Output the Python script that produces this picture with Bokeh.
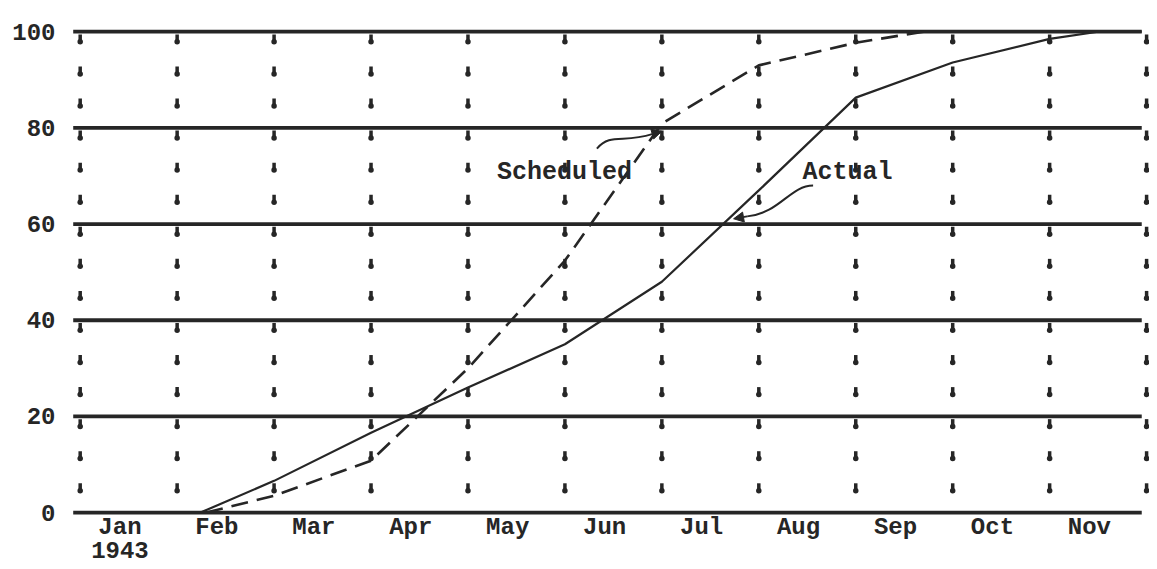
from bokeh.plotting import figure
from bokeh.models import FixedTicker, Arrow, NormalHead, Label
from bokeh.embed import file_html
from bokeh.resources import INLINE
from bokeh.core.properties import value

# ---- data ----
months = ["Jan", "Feb", "Mar", "Apr", "May", "Jun", "Jul", "Aug", "Sep", "Oct", "Nov"]
year_label = "1943"
y_ticks = [0, 20, 40, 60, 80, 100]

# x in months since 1 Jan 1943 (month boundaries are the dotted lines)
actual_x = [1.24, 2, 3, 4, 5, 6, 7, 8, 9, 10, 10.5, 10.95]
actual_y = [0, 6.6, 16.6, 26, 35, 48, 67, 86.3, 93.6, 98.5, 100, 100]

scheduled_x = [1.3, 2, 3, 4, 5, 6, 7, 8, 8.7]
scheduled_y = [0, 3.5, 10.8, 30, 52.4, 80.9, 93, 97.7, 100]

# callout texts and leader curves (data coords)
sched_text = "Scheduled"
sched_text_pos = (4.30, 70.7)
sched_curve = dict(x0=5.33, y0=75.7, cx0=5.47, cy0=79.0, cx1=5.6, cy1=76.8, x1=5.90, y1=78.7)
sched_tip = (6.0, 79.3)

actual_text = "Actual"
actual_text_pos = (7.45, 70.7)
actual_curve = dict(x0=7.56, y0=68.0, cx0=7.32, cy0=68.0, cx1=7.22, cy1=62.3, x1=6.88, y1=61.6)
actual_tip = (6.74, 61.1)

INK = "#262626"
FONT = "Liberation Mono"

# frame extends below zero so the month / year labels are drawn as text glyphs
p = figure(width=1149, height=565, x_range=(-0.1, 11.03), y_range=(-11.0, 101.5),
           output_backend="svg", toolbar_location=None,
           min_border_left=70, min_border_right=0, min_border_top=24, min_border_bottom=0)
p.outline_line_color = None
p.xgrid.visible = False
p.ygrid.visible = False
p.xaxis.visible = False
p.background_fill_color = "white"
p.border_fill_color = "white"

# horizontal rules
p.segment(x0=[-0.072] * len(y_ticks), x1=[10.95] * len(y_ticks), y0=y_ticks, y1=y_ticks,
          line_color=INK, line_width=3.8)

# vertical dotted lines (typewriter marks)
dx, dy = [], []
for i in range(len(months) + 1):
    for k in range(1, 6):
        for j in range(3):
            dx.append(i)
            dy.append(20 * k - 1.5 - 6.67 * j)
p.rect(x=dx, y=dy, width=3.5, height=9, width_units="screen", height_units="screen",
       fill_color=INK, line_color=None)
p.scatter(x=dx, y=[v - 0.6 for v in dy], size=5.5, marker="circle", fill_color=INK, line_color=None)

# series
p.line(actual_x, actual_y, line_color=INK, line_width=2.2)
p.line(scheduled_x, scheduled_y, line_color=INK, line_width=2.6, line_dash="17 9")

# callouts
for txt, pos in [(sched_text, sched_text_pos), (actual_text, actual_text_pos)]:
    p.add_layout(Label(x=pos[0], y=pos[1], text=txt, text_font=FONT, text_font_style="bold",
                       text_font_size="25px", text_color=INK, text_baseline="middle",
                       text_align="left"))
for c, tip in [(sched_curve, sched_tip), (actual_curve, actual_tip)]:
    p.bezier(x0=[c["x0"]], y0=[c["y0"]], x1=[c["x1"]], y1=[c["y1"]],
             cx0=[c["cx0"]], cy0=[c["cy0"]], cx1=[c["cx1"]], cy1=[c["cy1"]],
             line_color=INK, line_width=2)
    p.add_layout(Arrow(x_start=c["x1"], y_start=c["y1"], x_end=tip[0], y_end=tip[1],
                       line_color=INK, line_width=2,
                       end=NormalHead(size=10, fill_color=INK, line_color=INK)))

# month labels (x axis) and year
label_x = [i + 0.5 - 0.09 for i in range(len(months))]
p.text(x=label_x, y=[-0.3] * len(months), text=months, text_font=value(FONT),
       text_font_style="bold", text_font_size="24px", text_color=INK,
       text_align="center", text_baseline="top")
p.text(x=[label_x[0]], y=[-6.2], text=[year_label], text_font=value(FONT),
       text_font_style="bold", text_font_size="24px", text_color=INK,
       text_align="center", text_baseline="top")

# y axis
ax = p.yaxis
ax.ticker = FixedTicker(ticks=y_ticks)
ax.axis_line_color = None
ax.major_tick_line_color = None
ax.minor_tick_line_color = None
ax.major_tick_out = 0
ax.major_tick_in = 0
ax.minor_tick_out = 0
ax.minor_tick_in = 0
ax.major_label_text_font = FONT
ax.major_label_text_font_style = "bold"
ax.major_label_text_font_size = "24px"
ax.major_label_text_color = INK
ax.major_label_standoff = 15

open("out.html", "w").write(file_html(p, INLINE))
